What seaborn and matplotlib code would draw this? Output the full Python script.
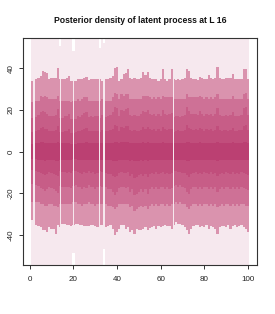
import numpy as np
import pandas as pd
import matplotlib
matplotlib.use("Agg")
import matplotlib.pyplot as plt
import seaborn as sns

t = list(range(1, 101))

# outer (lightest) band
l_hi = [62, 60, 64, 66, 63, 68, 65, 61, 63, 67,
        64, 62, 69, 50.5, 63, 61, 65, 64, 62, 48.0,
        63, 66, 62, 64, 61, 65, 63, 62, 64, 66,
        63, 49.5, 62, 52.0, 64, 63, 65, 66, 70, 68,
        62, 65, 66, 64, 69, 63, 62, 64, 61, 63,
        65, 67, 64, 66, 63, 62, 64, 61, 63, 62,
        68, 63, 61, 64, 67, 60, 62, 63, 61, 64,
        65, 69, 66, 63, 62, 64, 61, 65, 63, 62,
        64, 63, 65, 62, 63, 70, 64, 62, 63, 64,
        62, 63, 66, 61, 62, 63, 64, 68, 69, 63]
l_lo = [-61, -63, -62, -64, -66, -65, -67, -68, -63, -64,
        -65, -68, -66, -62, -61, -63, -62, -64, -63, -48.5,
        -61, -62, -63, -64, -62, -63, -61, -62, -63, -64,
        -63, -62, -62, -46.7, -63, -64, -63, -66, -69, -67,
        -64, -62, -63, -65, -64, -67, -66, -69, -67, -66,
        -65, -66, -64, -67, -64, -63, -62, -64, -63, -62,
        -62, -61, -63, -62, -64, -60, -60, -62, -61, -62,
        -63, -66, -68, -64, -62, -62, -63, -62, -63, -62,
        -62, -64, -62, -63, -64, -68, -63, -62, -62, -63,
        -62, -64, -62, -62, -63, -62, -62, -63, -64, -66]

# second band
p_hi = [33.8, 30.0, 34.6, 35.4, 36.2, 38.6, 38.1, 37.8, 34.6, 35.1,
        35.1, 35.1, 39.8, 34.6, 34.6, 34.9, 35.1, 36.2, 33.8, 34.0,
        33.8, 34.6, 34.6, 34.9, 35.4, 35.7, 34.3, 34.6, 34.6, 34.6,
        34.6, 34.6, 34.0, 34.6, 34.6, 34.9, 35.1, 36.2, 40.2, 40.5,
        33.8, 34.6, 37.0, 37.8, 39.4, 35.4, 34.6, 35.4, 34.6, 34.6,
        35.4, 38.1, 36.5, 38.1, 35.4, 34.9, 34.6, 34.6, 33.8, 34.6,
        39.4, 34.6, 33.8, 34.6, 39.7, 34.6, 34.3, 34.6, 34.1, 34.6,
        35.4, 39.7, 38.6, 35.4, 34.6, 34.9, 34.1, 35.9, 35.4, 34.6,
        34.9, 36.5, 35.4, 34.9, 35.4, 40.6, 35.4, 34.9, 34.9, 35.1,
        35.4, 35.4, 37.3, 34.6, 34.6, 34.9, 34.9, 39.7, 39.4, 34.9]
p_lo = [-33.0, -33.0, -35.4, -35.9, -36.2, -37.8, -37.8, -38.6, -36.2, -37.0,
        -37.0, -39.4, -35.4, -36.0, -34.6, -34.9, -35.4, -35.4, -35.9, -35.0,
        -34.6, -34.9, -35.4, -35.4, -35.9, -35.9, -35.7, -35.4, -35.4, -35.9,
        -36.2, -35.4, -35.4, -35.4, -36.2, -35.9, -35.4, -37.0, -40.2, -38.6,
        -37.0, -35.4, -35.4, -37.0, -36.2, -38.6, -37.8, -39.4, -37.0, -37.5,
        -37.8, -37.0, -36.2, -37.8, -36.5, -36.2, -35.9, -37.0, -35.9, -36.2,
        -35.9, -35.4, -35.9, -35.9, -37.0, -35.0, -33.8, -34.9, -34.6, -35.4,
        -36.2, -37.8, -39.4, -37.0, -35.9, -35.4, -35.4, -36.2, -35.9, -36.2,
        -35.4, -37.0, -35.9, -36.2, -37.0, -39.4, -36.2, -35.9, -35.9, -36.2,
        -35.4, -37.0, -35.9, -35.4, -36.2, -35.9, -35.4, -36.2, -37.0, -38.6]

# third band
m_hi = [23.5, 23.5, 24.3, 24.3, 26.4, 25.9, 26.4, 25.9, 25.1, 25.1,
        25.1, 25.1, 26.7, 24.3, 24.3, 24.3, 24.3, 24.3, 23.5, 24.3,
        24.3, 25.1, 24.3, 25.1, 25.9, 25.9, 24.3, 24.3, 24.3, 24.3,
        24.3, 24.3, 25.1, 24.3, 24.3, 24.3, 24.3, 25.9, 28.0, 27.5,
        25.1, 27.5, 26.7, 27.5, 27.5, 25.1, 25.1, 25.1, 25.1, 25.1,
        25.1, 26.7, 26.7, 26.7, 25.9, 25.1, 25.9, 25.1, 25.9, 25.1,
        26.7, 25.9, 25.9, 25.9, 25.9, 25.1, 25.1, 25.1, 25.1, 25.1,
        25.1, 27.5, 25.9, 25.9, 25.9, 25.9, 25.9, 26.7, 25.9, 25.1,
        25.9, 25.1, 25.9, 25.1, 25.9, 27.5, 25.1, 25.1, 25.1, 25.1,
        25.1, 25.1, 26.7, 25.1, 25.1, 25.1, 25.1, 27.5, 28.0, 25.1]
m_lo = [-24.3, -24.3, -24.3, -24.3, -25.1, -25.1, -25.9, -25.9, -25.1, -25.1,
        -25.9, -25.9, -26.7, -25.1, -25.1, -25.1, -25.1, -25.1, -25.1, -24.3,
        -24.3, -25.1, -25.1, -25.9, -25.1, -25.1, -24.3, -25.1, -25.1, -25.9,
        -25.1, -25.1, -25.1, -25.1, -25.1, -25.9, -25.9, -26.7, -27.5, -26.7,
        -25.1, -25.1, -25.1, -25.1, -25.1, -26.7, -25.9, -28.3, -27.5, -26.7,
        -25.9, -26.7, -25.9, -27.5, -25.9, -25.1, -25.9, -25.1, -25.9, -25.1,
        -25.1, -25.9, -25.1, -25.9, -25.1, -25.1, -24.3, -25.1, -24.3, -25.1,
        -25.1, -26.7, -27.5, -25.9, -25.1, -25.1, -25.9, -25.1, -25.9, -25.1,
        -25.1, -25.9, -25.1, -25.9, -25.1, -26.7, -25.9, -25.1, -25.9, -25.1,
        -25.1, -25.9, -25.1, -25.9, -25.1, -25.9, -25.1, -25.1, -25.9, -25.9]

# fourth band
d_hi = [16.0, 16.5, 16.6, 17.4, 19.0, 19.6, 18.8, 18.2, 16.8, 17.2,
        17.0, 17.6, 20.2, 16.0, 16.2, 16.8, 17.0, 17.8, 15.4, 15.5,
        15.8, 17.0, 16.6, 17.4, 18.6, 18.8, 16.4, 16.8, 16.6, 17.0,
        16.8, 16.0, 17.4, 16.0, 16.6, 17.0, 17.6, 18.8, 21.4, 21.0,
        17.2, 19.8, 19.4, 20.2, 20.8, 17.6, 17.0, 17.4, 16.8, 17.2,
        17.8, 19.6, 18.8, 19.8, 18.0, 17.4, 18.2, 17.0, 18.0, 17.2,
        19.8, 18.2, 17.6, 18.0, 18.6, 16.5, 16.8, 17.2, 16.6, 17.0,
        17.6, 21.2, 19.4, 18.2, 17.8, 18.0, 17.4, 19.2, 18.2, 17.0,
        18.0, 17.6, 18.2, 17.2, 17.8, 21.0, 17.4, 17.0, 17.2, 17.4,
        17.2, 17.6, 19.0, 17.0, 16.8, 17.2, 17.4, 20.8, 21.4, 17.6]
d_lo = [-15.4, -16.0, -16.0, -16.6, -17.4, -18.0, -18.8, -18.2, -17.0, -17.4,
        -18.2, -19.0, -19.8, -16.5, -16.8, -17.0, -17.2, -17.0, -17.4, -16.5,
        -16.0, -17.0, -17.2, -18.2, -17.0, -17.4, -16.2, -17.2, -17.0, -18.0,
        -17.2, -16.5, -17.0, -16.5, -17.2, -18.2, -18.0, -19.4, -20.8, -19.6,
        -17.4, -17.0, -17.2, -17.6, -17.0, -19.4, -18.2, -21.0, -20.2, -19.2,
        -18.2, -19.4, -18.0, -20.4, -18.2, -17.2, -18.0, -17.0, -18.2, -17.2,
        -17.0, -18.0, -17.2, -18.2, -17.4, -16.5, -16.0, -17.0, -16.2, -17.2,
        -17.4, -19.2, -20.6, -18.2, -17.2, -17.0, -18.0, -17.2, -18.2, -17.0,
        -17.2, -18.2, -17.0, -18.0, -17.2, -19.6, -18.2, -17.2, -18.0, -17.0,
        -17.2, -18.2, -17.0, -18.0, -17.2, -18.2, -17.0, -17.4, -18.2, -18.6]

# fifth band
e_hi = [9.2, 9.5, 9.6, 10.2, 11.2, 11.6, 11.0, 10.6, 9.8, 10.0,
        10.0, 10.4, 12.0, 9.5, 9.4, 9.8, 10.0, 10.6, 9.0, 9.0,
        9.2, 10.0, 9.8, 10.2, 11.0, 11.2, 9.6, 9.8, 9.8, 10.0,
        9.8, 9.5, 10.2, 9.5, 9.8, 10.0, 10.4, 11.0, 12.6, 12.4,
        10.0, 11.8, 11.4, 12.0, 12.2, 10.4, 10.0, 10.2, 9.8, 10.0,
        10.4, 11.6, 11.0, 11.8, 10.6, 10.2, 10.8, 10.0, 10.6, 10.0,
        11.8, 10.8, 10.4, 10.6, 11.0, 9.5, 9.8, 10.2, 9.6, 10.0,
        10.4, 12.6, 11.4, 10.8, 10.4, 10.6, 10.2, 11.4, 10.8, 10.0,
        10.6, 10.4, 10.8, 10.0, 10.4, 12.4, 10.2, 10.0, 10.2, 10.2,
        10.0, 10.4, 11.2, 10.0, 9.8, 10.2, 10.2, 12.2, 12.6, 10.4]
e_lo = [-8.8, -9.2, -9.2, -9.6, -10.2, -10.6, -11.2, -10.8, -10.0, -10.2,
        -10.8, -11.4, -11.8, -9.5, -9.8, -10.0, -10.2, -10.0, -10.2, -9.5,
        -9.2, -10.0, -10.2, -10.8, -10.0, -10.2, -9.4, -10.2, -10.0, -10.6,
        -10.2, -9.5, -10.0, -9.5, -10.2, -10.8, -10.6, -11.6, -12.4, -11.8,
        -10.2, -10.0, -10.2, -10.4, -10.0, -11.6, -10.8, -12.6, -12.0, -11.4,
        -10.8, -11.6, -10.6, -12.2, -10.8, -10.2, -10.6, -10.0, -10.8, -10.2,
        -10.0, -10.6, -10.2, -10.8, -10.4, -9.5, -9.4, -10.0, -9.6, -10.2,
        -10.4, -11.4, -12.4, -10.8, -10.2, -10.0, -10.6, -10.2, -10.8, -10.0,
        -10.2, -10.8, -10.0, -10.6, -10.2, -11.8, -10.8, -10.2, -10.6, -10.0,
        -10.2, -10.8, -10.0, -10.6, -10.2, -10.8, -10.0, -10.4, -10.8, -11.2]

# central band
c_hi = [3.8, 3.8, 3.9, 4.1, 4.4, 4.5, 4.3, 4.2, 4.0, 4.0,
        4.0, 4.1, 4.6, 3.9, 3.9, 4.0, 4.0, 4.2, 3.8, 3.8,
        3.8, 4.0, 3.9, 4.1, 4.3, 4.4, 3.9, 4.0, 3.9, 4.0,
        3.9, 3.9, 4.1, 3.9, 3.9, 4.0, 4.1, 4.3, 4.8, 4.7,
        4.0, 4.5, 4.4, 4.6, 4.6, 4.1, 4.0, 4.1, 3.9, 4.0,
        4.1, 4.5, 4.3, 4.5, 4.2, 4.1, 4.2, 4.0, 4.2, 4.0,
        4.5, 4.2, 4.1, 4.2, 4.3, 3.9, 3.9, 4.1, 3.9, 4.0,
        4.1, 4.8, 4.4, 4.2, 4.1, 4.2, 4.1, 4.4, 4.2, 4.0,
        4.2, 4.1, 4.2, 4.0, 4.1, 4.7, 4.1, 4.0, 4.1, 4.1,
        4.0, 4.1, 4.4, 4.0, 3.9, 4.1, 4.1, 4.6, 4.8, 4.1]
c_lo = [-3.7, -3.8, -3.8, -3.9, -4.1, -4.2, -4.4, -4.3, -4.0, -4.1,
        -4.2, -4.4, -4.5, -3.9, -3.9, -4.0, -4.1, -4.0, -4.1, -3.8,
        -3.8, -4.0, -4.1, -4.2, -4.0, -4.1, -3.9, -4.1, -4.0, -4.2,
        -4.1, -3.9, -4.0, -3.9, -4.1, -4.2, -4.2, -4.4, -4.7, -4.5,
        -4.1, -4.0, -4.1, -4.1, -4.0, -4.4, -4.2, -4.7, -4.5, -4.4,
        -4.2, -4.4, -4.2, -4.6, -4.2, -4.1, -4.2, -4.0, -4.2, -4.1,
        -4.0, -4.2, -4.1, -4.2, -4.1, -3.9, -3.9, -4.0, -3.9, -4.1,
        -4.1, -4.4, -4.7, -4.2, -4.1, -4.0, -4.2, -4.1, -4.2, -4.0,
        -4.1, -4.2, -4.0, -4.2, -4.1, -4.5, -4.2, -4.1, -4.2, -4.0,
        -4.1, -4.2, -4.0, -4.2, -4.1, -4.2, -4.0, -4.1, -4.2, -4.3]

# time points whose fan shows a thin break
gap_t = [2, 14, 20, 32, 34, 66]

x_ticks = [0, 20, 40, 60, 80, 100]
y_ticks = [-40, -20, 0, 20, 40]
title = "Posterior density of latent process at L 16"

light_col = "#f6e8ee"
bands = [
    (l_lo, l_hi, light_col),
    (p_lo, p_hi, "#da93ae"),
    (m_lo, m_hi, "#ce7196"),
    (d_lo, d_hi, "#c75d87"),
    (e_lo, e_hi, "#c14e7c"),
    (c_lo, c_hi, "#bb4072"),
]

sns.set_theme(style="white")
plt.rcParams["font.family"] = ["Liberation Sans", "DejaVu Sans"]

fig = plt.figure(figsize=(2.75, 3.14), dpi=100)
ax = fig.add_axes([0.0847, 0.156, 0.8487, 0.7229])


def draw_band(frame, color, width):
    frame = frame.sort_values("t").copy()
    frame["h"] = frame["hi"] - frame["lo"]
    sns.barplot(data=frame, x="t", y="h", bottom=frame["lo"].to_numpy(),
                native_scale=True, width=width, color=color, saturation=1,
                errorbar=None, linewidth=0, edgecolor="none", ax=ax)


for lo, hi, col in bands:
    draw_band(pd.DataFrame({"t": t, "lo": lo, "hi": hi}), col, 1.0)

# thin breaks at flagged time points (min spacing among them is 2 -> 0.3*2 units)
gdf = pd.DataFrame({"t": t, "lo": l_lo, "hi": l_hi})
gdf = gdf[gdf["t"].isin(gap_t)]
draw_band(gdf, light_col, 0.3)

ax.set_xlim(-2.96, 103.96)
ax.set_ylim(-54.4, 54.4)
ax.set_xticks(x_ticks)
ax.set_xticklabels([str(v) for v in x_ticks])
ax.set_yticks(y_ticks)
ax.set_yticklabels([str(v) for v in y_ticks])
ax.set_xlabel("")
ax.set_ylabel("")
for s in ax.spines.values():
    s.set_visible(True)
    s.set_color("#333333")
    s.set_linewidth(0.8)
ax.tick_params(axis="both", which="major", direction="out", length=3.0,
               width=0.7, color="#333333", labelsize=5.8, labelcolor="#222222",
               bottom=True, left=True)
ax.tick_params(axis="x", pad=5.0)
ax.tick_params(axis="y", pad=3.0)
for lab in ax.get_yticklabels():
    lab.set_rotation(90)
    lab.set_va("center")

fig.text(0.509, 0.936, title, ha="center", va="center",
         fontsize=6.2, fontweight="bold", color="#111111")

fig.savefig("out.png", dpi=100)
